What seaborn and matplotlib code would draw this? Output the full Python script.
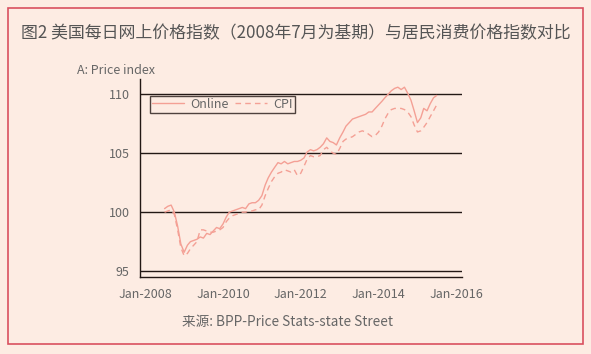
import pandas as pd
import seaborn as sns
import matplotlib.pyplot as plt
import matplotlib.dates as mdates
from matplotlib.patches import Rectangle

months = pd.date_range("2008-07-01", "2015-07-01", freq="MS")

online = [100.3, 100.5, 100.6, 100.0, 98.8, 97.3,
          96.6, 97.2, 97.5, 97.6, 97.7, 97.9, 97.8, 98.2, 98.1, 98.4, 98.7, 98.6,
          99.0, 99.6, 100.0, 100.1, 100.2, 100.3, 100.4, 100.3, 100.7, 100.8, 100.8, 101.0,
          101.4, 102.3, 102.9, 103.4, 103.8, 104.2, 104.1, 104.3, 104.1, 104.2, 104.3, 104.3,
          104.4, 104.6, 105.1, 105.3, 105.2, 105.3, 105.5, 105.8, 106.3, 106.0, 105.9, 105.7,
          106.3, 106.8, 107.3, 107.6, 107.9, 108.0, 108.1, 108.2, 108.3, 108.5, 108.5, 108.8,
          109.1, 109.4, 109.7, 110.0, 110.3, 110.5, 110.6, 110.4, 110.6, 110.1, 109.5, 108.6,
          107.6, 108.0, 108.8, 108.6, 109.2, 109.7, 109.9]

cpi = [100.0, 100.1, 100.2, 99.8, 98.5, 97.0,
       96.3, 96.5, 96.9, 97.2, 97.5, 98.5, 98.5, 98.4, 98.3, 98.3, 98.4, 98.5,
       98.7, 99.2, 99.5, 99.7, 99.8, 99.9, 100.0, 100.0, 100.1, 100.1, 100.2, 100.2,
       100.6, 101.4, 102.0, 102.6, 103.0, 103.3, 103.4, 103.6, 103.5, 103.4, 103.6, 103.1,
       103.3, 103.9, 104.5, 104.8, 104.7, 104.7, 104.8, 105.3, 105.5, 105.2, 105.0, 104.9,
       105.4, 106.0, 106.2, 106.3, 106.4, 106.6, 106.8, 106.9, 106.8, 106.6, 106.4, 106.5,
       106.8, 107.3, 107.9, 108.4, 108.7, 108.8, 108.8, 108.8, 108.7, 108.5, 108.1, 107.4,
       106.8, 106.9, 107.2, 107.6, 108.1, 108.6, 109.1]

series_names = ["Online", "CPI"]
y_ticks = [95, 100, 105, 110]
x_ticks = ["2008-01-01", "2010-01-01", "2012-01-01", "2014-01-01", "2016-01-01"]

df = pd.concat([
    pd.DataFrame({"date": months, "value": online, "series": "Online"}),
    pd.DataFrame({"date": months, "value": cpi, "series": "CPI"}),
])

bg = "#fdece3"
line_col = "#f4a095"
ink = "#231815"
gray = "#666666"

sns.set_style("white")
plt.rcParams["font.family"] = ["Noto Sans CJK SC", "DejaVu Sans"]

fig = plt.figure(figsize=(5.91, 3.54), dpi=100)
fig.patch.set_facecolor(bg)
fig.patches.append(Rectangle((0.014, 0.028), 0.972, 0.95, transform=fig.transFigure,
                             fill=False, edgecolor="#d9505f", linewidth=1.2))

ax = fig.add_axes([0.237, 0.2175, 0.545, 0.5595])
ax.set_facecolor(bg)

sns.lineplot(data=df, x="date", y="value", hue="series", style="series",
             hue_order=series_names, style_order=series_names,
             palette=[line_col, line_col], dashes={"Online": "", "CPI": (4, 3)},
             linewidth=1.0, ax=ax)

for v in y_ticks:
    ax.axhline(v, color=ink, linewidth=1.0, zorder=0)

ax.set_ylim(94.5, 111.3)
ax.set_yticks(y_ticks)
ax.set_xlim(pd.Timestamp("2007-11-14"), pd.Timestamp("2016-02-25"))
ax.set_xticks(pd.to_datetime(x_ticks))
ax.xaxis.set_major_formatter(mdates.DateFormatter("%b-%Y"))
ax.set_xlabel("")
ax.set_ylabel("")

for s in ["top", "right"]:
    ax.spines[s].set_visible(False)
for s in ["left", "bottom"]:
    ax.spines[s].set_color(ink)
    ax.spines[s].set_linewidth(1.0)
ax.tick_params(axis="both", direction="out", length=4, width=1, color=ink,
               labelcolor=gray, labelsize=9)
ax.tick_params(axis="x", pad=4)

leg = ax.legend(loc="upper left", bbox_to_anchor=(0.03, 0.915), ncol=2,
                frameon=True, fancybox=False, fontsize=9, handlelength=2.6,
                columnspacing=0.5, handletextpad=0.5, borderpad=0.15,
                borderaxespad=0)
leg.get_frame().set_edgecolor(ink)
leg.get_frame().set_facecolor(bg)
leg.get_frame().set_linewidth(1.0)
for t in leg.get_texts():
    t.set_color(gray)

fig.text(0.5, 0.905, "图2 美国每日网上价格指数（2008年7月为基期）与居民消费价格指数对比",
         ha="center", va="center", fontsize=12.2, color="#555555")
fig.text(0.13, 0.802, "A: Price index", ha="left", va="center", fontsize=9, color=gray)
fig.text(0.487, 0.09, "来源: BPP-Price Stats-state Street", ha="center", va="center",
         fontsize=9.8, color=gray)

fig.savefig("out.png", dpi=100, facecolor=bg)
